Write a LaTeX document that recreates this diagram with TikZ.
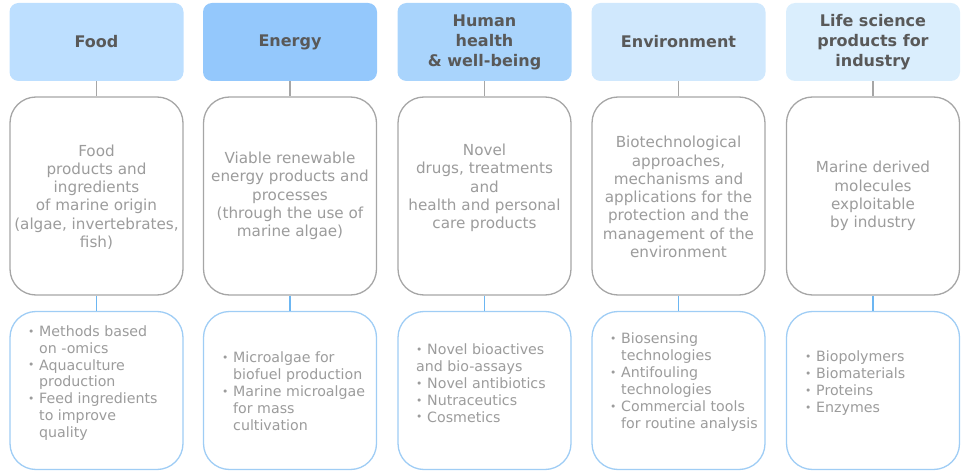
\documentclass[tikz,border=0pt]{standalone}
\usepackage{fontspec}
\setmainfont{DejaVu Sans}
\definecolor{hFood}{HTML}{BDDFFF}
\definecolor{hEnergy}{HTML}{94C8FC}
\definecolor{hHuman}{HTML}{A9D4FC}
\definecolor{hEnv}{HTML}{D0E8FD}
\definecolor{hLife}{HTML}{DAEEFD}
\definecolor{headtxt}{HTML}{595959}
\definecolor{bodytxt}{HTML}{9C9C9C}
\definecolor{grayline}{HTML}{A6A6A6}
\definecolor{blueline}{HTML}{9FCDF5}
\definecolor{blueconn}{HTML}{6CB6F2}
\newcommand\bl{\makebox[11pt][l]{\raisebox{0.15ex}{\scalebox{0.75}{•}}}}
\newcommand\ind{\hspace*{11pt}}
\tikzset{
  headbox/.style={rectangle, rounded corners=9pt, minimum width=174pt, minimum height=78pt,
    inner sep=0pt, align=center, text=headtxt, font=\fontsize{16}{20}\selectfont\bfseries},
  midbox/.style={rectangle, rounded corners=26pt, draw=grayline, line width=1.3pt, fill=white,
    minimum width=173pt, minimum height=198pt, inner sep=0pt},
  botbox/.style={rectangle, rounded corners=26pt, draw=blueline, line width=1.3pt, fill=white,
    minimum width=173pt, minimum height=158pt, inner sep=0pt},
  midtxt/.style={align=center, text=bodytxt, inner sep=0pt, font=\fontsize{15.2}{18.3}\selectfont},
  listtxt/.style={align=left, text=bodytxt, inner sep=0pt, anchor=west, font=\fontsize{14.2}{16.9}\selectfont},
  topconn/.style={draw=grayline, line width=1.3pt},
  botconn/.style={draw=blueconn, line width=1.3pt},
}
\begin{document}
\begin{tikzpicture}[x=1pt,y=-1pt]
\useasboundingbox (0,0) rectangle (964,473);
% headers
\node[headbox, fill=hFood] (h1) at (96.5,42) {Food};
\node[headbox, fill=hEnergy] (h2) at (290,42) {Energy};
\node[headbox, fill=hHuman] (h3) at (484.5,42) {Human\\health\\\& well-being};
\node[headbox, fill=hEnv] (h4) at (678.5,42) {Environment};
\node[headbox, fill=hLife] (h5) at (873,42) {Life science\\products for\\industry};
% middle boxes
\node[midbox] (m1) at (96.5,196) {};
\node[midbox] (m2) at (290,196) {};
\node[midbox] (m3) at (484.5,196) {};
\node[midbox] (m4) at (678.5,196) {};
\node[midbox] (m5) at (873,196) {};
\node[midtxt] (t1) at (96.5,197) {Food\\products and\\ingredients\\of marine origin\\(algae, invertebrates,\\fish)};
\node[midtxt] (t2) at (290,196) {Viable renewable\\energy products and\\processes\\(through the use of\\marine algae)};
\node[midtxt] (t3) at (484.5,188) {Novel\\drugs, treatments\\and\\health and personal\\care products};
\node[midtxt] (t4) at (678.5,197) {Biotechnological\\approaches,\\mechanisms and\\applications for the\\protection and the\\management of the\\environment};
\node[midtxt] (t5) at (873,196) {Marine derived\\molecules\\exploitable\\by industry};
% bottom boxes
\node[botbox] (b1) at (96.5,390.5) {};
\node[botbox] (b2) at (290,390.5) {};
\node[botbox] (b3) at (484.5,390.5) {};
\node[botbox] (b4) at (678.5,390.5) {};
\node[botbox] (b5) at (873,390.5) {};
\node[listtxt] (l1) at (28,383) {\bl Methods based\\\ind on -omics\\\bl Aquaculture\\\ind production\\\bl Feed ingredients\\\ind to improve\\\ind quality};
\node[listtxt] (l2) at (222,391) {\bl Microalgae for\\\ind biofuel production\\\bl Marine microalgae\\\ind for mass\\\ind cultivation};
\node[listtxt] (l3) at (416,383) {\bl Novel bioactives\\and bio-assays\\\bl Novel antibiotics\\\bl Nutraceutics\\\bl Cosmetics};
\node[listtxt] (l4) at (610,382) {\bl Biosensing\\\ind technologies\\\bl Antifouling\\\ind technologies\\\bl Commercial tools\\\ind for routine analysis};
\node[listtxt] (l5) at (805,383) {\bl Biopolymers\\\bl Biomaterials\\\bl Proteins\\\bl Enzymes};
% connectors
\foreach \i in {1,...,5}{
  \draw[topconn] (h\i.south) -- (m\i.north);
  \draw[botconn] (m\i.south) -- (b\i.north);
}
\end{tikzpicture}
\end{document}
